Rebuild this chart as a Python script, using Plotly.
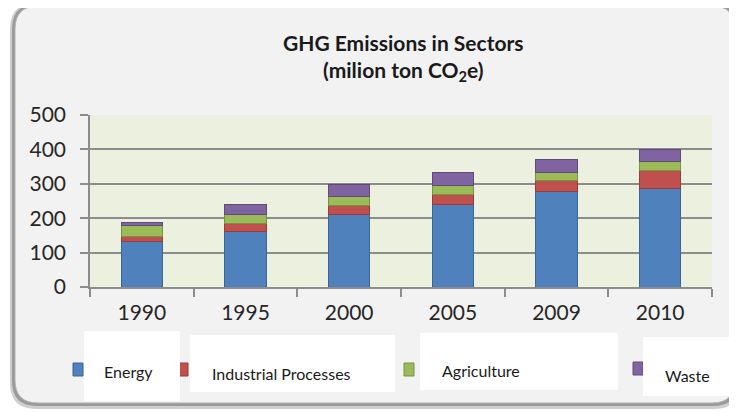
import plotly.graph_objects as go

years = ["1990", "1995", "2000", "2005", "2009", "2010"]
series_names = ["Energy", "Industrial Processes", "Agriculture", "Waste"]
energy = [131, 160, 212, 241, 279, 285]
industrial = [15, 25, 26, 29, 32, 53]
agriculture = [32, 27, 25, 26, 22, 28]
waste = [9, 27, 36, 36, 39, 35]
y_ticks = [0, 100, 200, 300, 400, 500]

colors = ["#4f81bd", "#c0504d", "#9bbb59", "#8064a2"]
edges = ["#3b6596", "#963c3a", "#789243", "#5f4a7a"]

OFF = 8  # page body margin
PW, PH = 737, 412
W, H = PW - OFF, PH - OFF
L, R, T, B = 90, 712, 115, 287  # plot area in page pixels


def px(x):
    return (x - L) / (R - L)


def py(y):
    return (B - y) / (B - T)


def rrect(x0, y0, x1, y1, r):
    pts = [
        f"M {px(x0 + r)},{py(y0)}",
        f"L {px(x1 - r)},{py(y0)}",
        f"Q {px(x1)},{py(y0)} {px(x1)},{py(y0 + r)}",
        f"L {px(x1)},{py(y1 - r)}",
        f"Q {px(x1)},{py(y1)} {px(x1 - r)},{py(y1)}",
        f"L {px(x0 + r)},{py(y1)}",
        f"Q {px(x0)},{py(y1)} {px(x0)},{py(y1 - r)}",
        f"L {px(x0)},{py(y0 + r)}",
        f"Q {px(x0)},{py(y0)} {px(x0 + r)},{py(y0)}",
        "Z",
    ]
    return " ".join(pts)


fig = go.Figure()
for name, vals, c, e in zip(series_names, [energy, industrial, agriculture, waste], colors, edges):
    fig.add_trace(go.Bar(x=years, y=vals, name=name, marker=dict(color=c, line=dict(color=e, width=1))))

shapes = []
# frame shadow
shapes.append(dict(type="path", xref="paper", yref="paper", layer="below",
                   path=rrect(10, 3, 740, 409, 26), fillcolor="#cfcfcf", line=dict(width=0)))
shapes.append(dict(type="path", xref="paper", yref="paper", layer="below",
                   path=rrect(12, 4, 738, 406, 25), fillcolor="#9a9a9a", line=dict(width=0)))
shapes.append(dict(type="path", xref="paper", yref="paper", layer="below",
                   path=rrect(15, 6, 735, 403, 23), fillcolor="#f2f2f2", line=dict(color="#b0b0b0", width=1)))
# plot area background
shapes.append(dict(type="rect", xref="paper", yref="paper", layer="below",
                   x0=0, x1=1, y0=0, y1=1, fillcolor="#ebf1de", line=dict(width=0)))

# legend markers
markers = [(73, 363, 83, 376), (178, 363, 188, 376), (404, 363, 414, 376), (633, 362, 643, 375)]
for (x0, y0, x1, y1), c, e in zip(markers, colors, edges):
    shapes.append(dict(type="rect", xref="paper", yref="paper", layer="above",
                       x0=px(x0), x1=px(x1), y0=py(y1), y1=py(y0), fillcolor=c, line=dict(color=e, width=1)))
# white boxes over legend
boxes = [(84, 331, 180, 401), (190, 335, 395, 392), (420, 333, 618, 390), (643, 337, 729, 396)]
for (x0, y0, x1, y1) in boxes:
    shapes.append(dict(type="rect", xref="paper", yref="paper", layer="above",
                       x0=px(x0), x1=px(x1), y0=py(y1), y1=py(y0), fillcolor="white", line=dict(width=0)))

annotations = []
text_pos = [(102, 371), (210, 373), (440, 370), (663, 375)]
for name, (x, y) in zip(series_names, text_pos):
    annotations.append(dict(xref="paper", yref="paper", x=px(x), y=py(y), xanchor="left", yanchor="middle",
                            text=name, showarrow=False, font=dict(family="Lato", size=16, color="#1a1a1a")))
annotations.append(dict(xref="paper", yref="paper", x=px(403), y=py(43), xanchor="center", yanchor="middle",
                        text="<b>GHG Emissions in Sectors</b>", showarrow=False,
                        font=dict(family="Lato", size=21, color="#1a1a1a")))
annotations.append(dict(xref="paper", yref="paper", x=px(403), y=py(71), xanchor="center", yanchor="middle",
                        text="<b>(milion ton CO<sub>2</sub>e)</b>", showarrow=False,
                        font=dict(family="Lato", size=21, color="#1a1a1a")))

fig.update_layout(
    width=W, height=H,
    margin=dict(l=L - OFF, r=PW - R, t=T - OFF, b=PH - B, pad=0),
    paper_bgcolor="white", plot_bgcolor="rgba(0,0,0,0)",
    barmode="stack", bargap=0.6,
    showlegend=False,
    shapes=shapes, annotations=annotations,
    font=dict(family="Lato", color="#262626"),
)
fig.update_xaxes(type="category", showline=True, linecolor="#8c8c8c", linewidth=1.5,
                 ticks="outside", tickson="boundaries", ticklen=8, tickcolor="#8c8c8c", tickwidth=1.5,
                 ticklabelstandoff=6,
                 tickfont=dict(family="Lato", size=21, color="#262626"), showgrid=False)
fig.update_yaxes(range=[0, 500], tickvals=y_ticks, showgrid=True, gridcolor="#8c8c8c", gridwidth=1.5,
                 showline=True, linecolor="#8c8c8c", linewidth=1.5, ticks="outside", ticklen=8,
                 tickcolor="#8c8c8c", tickwidth=1.5, zeroline=False, ticklabelstandoff=10,
                 tickfont=dict(family="Lato", size=21, color="#262626"))

fig.write_html("out.html")
